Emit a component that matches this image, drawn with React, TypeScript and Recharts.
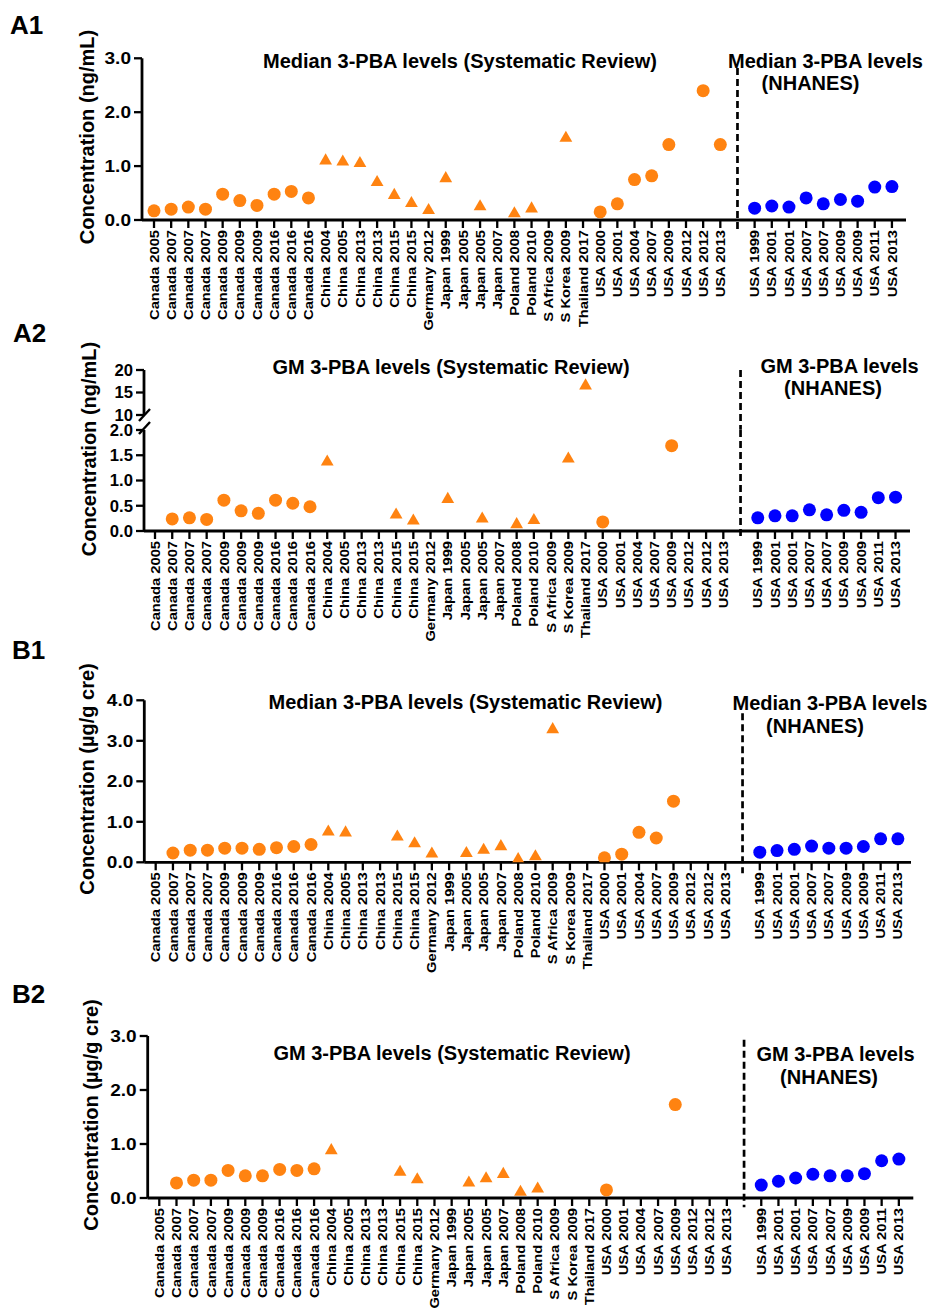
import React from 'react';
import { ScatterChart, Scatter, XAxis, YAxis, ReferenceLine } from 'recharts';

const FONT = '"Liberation Sans", Arial, Helvetica, sans-serif';
const ORANGE = '#FF8311';
const BLUE = '#0000FF';

// ---------- categories ----------
const srCategories = [
  'Canada 2005', 'Canada 2007', 'Canada 2007', 'Canada 2007', 'Canada 2009', 'Canada 2009', 'Canada 2009',
  'Canada 2016', 'Canada 2016', 'Canada 2016', 'China 2004', 'China 2005', 'China 2013', 'China 2013',
  'China 2015', 'China 2015', 'Germany 2012', 'Japan 1999', 'Japan 2005', 'Japan 2005', 'Japan 2007',
  'Poland 2008', 'Poland 2010', 'S Africa 2009', 'S Korea 2009', 'Thailand 2017', 'USA 2000', 'USA 2001',
  'USA 2004', 'USA 2007', 'USA 2009', 'USA 2012', 'USA 2012', 'USA 2013',
];
const nhanesCategories = ['USA 1999', 'USA 2001', 'USA 2001', 'USA 2007', 'USA 2007', 'USA 2009', 'USA 2009', 'USA 2011', 'USA 2013'];

// ---------- values ----------
const a1Review = [0.17, 0.20, 0.24, 0.20, 0.48, 0.36, 0.27, 0.48, 0.53, 0.41, 1.10, 1.08, 1.05, 0.70, 0.46, 0.31, 0.18, 0.77, null, 0.25, null, 0.12, 0.21, null, 1.52, null, 0.15, 0.30, 0.75, 0.82, 1.40, null, 2.40, 1.40];
const a1Nhanes = [0.22, 0.26, 0.24, 0.41, 0.30, 0.38, 0.35, 0.61, 0.62];

const a2Review = [null, 0.24, 0.26, 0.23, 0.61, 0.40, 0.35, 0.61, 0.55, 0.48, 1.37, null, null, null, 0.32, 0.20, null, 0.63, null, 0.24, null, 0.13, 0.21, null, 1.43, 16.5, 0.18, null, null, null, 1.69, null, null, null];
const a2Nhanes = [0.26, 0.30, 0.30, 0.42, 0.32, 0.41, 0.37, 0.66, 0.67];

const b1Review = [null, 0.23, 0.30, 0.30, 0.35, 0.35, 0.32, 0.36, 0.39, 0.44, 0.75, 0.73, null, null, 0.63, 0.46, 0.21, null, 0.22, 0.30, 0.39, 0.07, 0.14, 3.28, null, null, 0.11, 0.20, 0.74, 0.60, 1.51, null, null, null];
const b1Nhanes = [0.25, 0.29, 0.32, 0.40, 0.35, 0.35, 0.39, 0.58, 0.58];

const b2Review = [null, 0.28, 0.33, 0.33, 0.51, 0.41, 0.41, 0.53, 0.51, 0.54, 0.88, null, null, null, 0.48, 0.34, null, null, 0.28, 0.36, 0.44, 0.11, 0.17, null, null, null, 0.15, null, null, null, 1.73, null, null, null];
const b2Nhanes = [0.24, 0.31, 0.37, 0.44, 0.41, 0.41, 0.45, 0.69, 0.72];

// ---------- tick labels ----------
const ticksA1 = [0, 1, 2, 3];
const ticksA2Low = [0, 0.5, 1, 1.5, 2];
const ticksA2High = [10, 15, 20];
const ticksB1 = [0, 1, 2, 3, 4];
const ticksB2 = [0, 1, 2, 3];

const GAP = srCategories.length; // blank slot holding the dashed divider
const NH_START = GAP + 1;
const xTicks = [
  ...srCategories.map((_, i) => i),
  ...nhanesCategories.map((_, i) => NH_START + i),
];
const labelFor = (v: number) => (v < GAP ? srCategories[v] : nhanesCategories[v - NH_START]);
const isCircle = (label: string) => label.startsWith('Canada') || label.startsWith('USA');

type Pt = { x: number; y: number };
function reviewPoints(values: (number | null)[], circle: boolean, keep: (v: number) => boolean): Pt[] {
  const out: Pt[] = [];
  values.forEach((v, i) => {
    if (v === null || !keep(v)) return;
    if (isCircle(srCategories[i]) !== circle) return;
    out.push({ x: i, y: v });
  });
  return out;
}
function nhanesPoints(values: number[], keep: (v: number) => boolean): Pt[] {
  const out: Pt[] = [];
  values.forEach((v, i) => {
    if (keep(v)) out.push({ x: NH_START + i, y: v });
  });
  return out;
}

const CircleShape = (color: string) => (p: any) =>
  p.cx == null ? <g /> : <circle cx={p.cx} cy={p.cy} r={6.5} fill={color} />;
const TriangleShape = (p: any) => {
  if (p.cx == null) return <g />;
  const s = 12.8;
  const h = (s * Math.sqrt(3)) / 2;
  const { cx, cy } = p;
  return (
    <path
      d={`M${cx},${cy - (2 * h) / 3} L${cx + s / 2},${cy + h / 3} L${cx - s / 2},${cy + h / 3} Z`}
      fill={ORANGE}
    />
  );
};

const XTick = (p: any) => {
  const { x, y, payload } = p;
  return (
    <g transform={`translate(${x},${y})`}>
      <text
        transform="rotate(-90) scale(1.15,1)"
        textAnchor="end"
        dy="0.36em"
        fontFamily={FONT}
        fontWeight="bold"
        fontSize={12.8}
        fill="#000"
      >
        {labelFor(payload.value)}
      </text>
    </g>
  );
};
const makeYTick = (digits: number, size: number, stretch: number) => (p: any) => {
  const { x, y, payload } = p;
  return (
    <g transform={`translate(${x},${y}) scale(${stretch},1)`}>
      <text textAnchor="end" dy="0.36em" fontFamily={FONT} fontWeight="bold" fontSize={size} fill="#000">
        {Number(payload.value).toFixed(digits)}
      </text>
    </g>
  );
};

type PanelProps = {
  top: number;
  height: number;
  margin: { top: number; right: number; left: number; bottom: number };
  xAxisHeight: number;
  showX: boolean;
  xDomain: [number, number];
  yDomain: [number, number];
  yTicks: number[];
  digits: number;
  tickSize: number;
  tickStretch: number;
  review: (number | null)[];
  nhanes: number[];
  keep: (v: number) => boolean;
  dash: [number, number];
};

const AXIS = { stroke: '#000', strokeWidth: 2.8 };
const TICKLINE = { stroke: '#000', strokeWidth: 2.3 };

function Panel(props: PanelProps) {
  const { top, height, margin, xAxisHeight, showX, xDomain, yDomain, yTicks, digits, tickSize, tickStretch, review, nhanes, keep, dash } = props;
  return (
    <div style={{ position: 'absolute', left: 0, top, width: 929, height }}>
      <ScatterChart width={929} height={height} margin={margin}>
        <XAxis
          type="number"
          dataKey="x"
          domain={xDomain}
          ticks={xTicks}
          interval={0}
          hide={!showX}
          height={xAxisHeight}
          axisLine={AXIS}
          tickLine={TICKLINE}
          tickSize={8}
          tickMargin={2}
          tick={<XTick />}
          allowDataOverflow
        />
        <YAxis
          type="number"
          dataKey="y"
          domain={yDomain}
          ticks={yTicks}
          interval={0}
          width={60}
          axisLine={AXIS}
          tickLine={TICKLINE}
          tickSize={8}
          tickMargin={3}
          tick={makeYTick(digits, tickSize, tickStretch)}
          allowDataOverflow
        />
        <ReferenceLine
          segment={[{ x: GAP, y: dash[0] }, { x: GAP, y: dash[1] }]}
          stroke="#000"
          strokeWidth={2.7}
          strokeDasharray="7 4"
          ifOverflow="visible"
        />
        <Scatter data={reviewPoints(review, true, keep)} shape={CircleShape(ORANGE)} isAnimationActive={false} />
        <Scatter data={reviewPoints(review, false, keep)} shape={TriangleShape} isAnimationActive={false} />
        <Scatter data={nhanesPoints(nhanes, keep)} shape={CircleShape(BLUE)} isAnimationActive={false} />
      </ScatterChart>
    </div>
  );
}

const all = () => true;
const low = (v: number) => v <= 2;
const high = (v: number) => v >= 10;

const T = { fontFamily: FONT, fontWeight: 'bold' as const, fill: '#000' };

function Overlay() {
  const yLabel = (cx: number, cy: number, text: string) => (
    <text
      {...T}
      fontSize={20}
      x={cx}
      y={cy}
      textAnchor="middle"
      dominantBaseline="central"
      transform={`rotate(-90, ${cx}, ${cy})`}
    >
      {text}
    </text>
  );
  const title = (cx: number, y: number, text: string) => (
    <text {...T} fontSize={20} x={cx} y={y} textAnchor="middle">
      {text}
    </text>
  );
  const letter = (x: number, y: number, text: string) => (
    <text {...T} fontSize={26} x={x} y={y}>
      {text}
    </text>
  );
  return (
    <svg width={929} height={1311} style={{ position: 'absolute', left: 0, top: 0, pointerEvents: 'none' }}>
      {letter(10, 34, 'A1')}
      {title(460, 68, 'Median 3-PBA levels (Systematic Review)')}
      {title(825.5, 68, 'Median 3-PBA levels')}
      {title(810.5, 90, '(NHANES)')}
      {yLabel(87, 137, 'Concentration (ng/mL)')}

      {letter(13, 342, 'A2')}
      {title(451, 374, 'GM 3-PBA levels (Systematic Review)')}
      {title(839.5, 373, 'GM 3-PBA levels')}
      {title(833, 395, '(NHANES)')}
      {yLabel(89, 449, 'Concentration (ng/mL)')}
      <rect x={141} y={416} width={6} height={11} fill="#fff" />
      <line x1={139} y1={421} x2={150} y2={409} stroke="#000" strokeWidth={2.4} />
      <line x1={139} y1={434} x2={150} y2={422} stroke="#000" strokeWidth={2.4} />

      {letter(12, 659, 'B1')}
      {title(465.5, 709, 'Median 3-PBA levels (Systematic Review)')}
      {title(830, 710, 'Median 3-PBA levels')}
      {title(815, 733, '(NHANES)')}
      {yLabel(87, 779, 'Concentration (\u00b5g/g cre)')}

      {letter(12, 1003, 'B2')}
      {title(452, 1060, 'GM 3-PBA levels (Systematic Review)')}
      {title(835.5, 1061, 'GM 3-PBA levels')}
      {title(829, 1084, '(NHANES)')}
      {yLabel(90.7, 1115, 'Concentration (\u00b5g/g cre)')}
    </svg>
  );
}

export default function App() {
  return (
    <div style={{ position: 'absolute', left: 0, top: 0, width: 929, height: 1311, background: '#fff', overflow: 'hidden' }}>
      <Panel
        top={0}
        height={335}
        margin={{ top: 58.3, right: 23, left: 82, bottom: 10 }}
        xAxisHeight={105}
        showX
        xDomain={[-0.7, 43.82]}
        yDomain={[0, 3]}
        yTicks={ticksA1}
        digits={1}
        tickSize={17}
        tickStretch={1.12}
        review={a1Review}
        nhanes={a1Nhanes}
        keep={all}
        dash={[2.82, -0.19]}
      />
      <Panel
        top={420}
        height={230}
        margin={{ top: 10, right: 19, left: 84, bottom: 10 }}
        xAxisHeight={109}
        showX
        xDomain={[-0.639, 43.84]}
        yDomain={[0, 2]}
        yTicks={ticksA2Low}
        digits={1}
        tickSize={16}
        tickStretch={1.04}
        review={a2Review}
        nhanes={a2Nhanes}
        keep={low}
        dash={[2, -0.18]}
      />
      <Panel
        top={340}
        height={90}
        margin={{ top: 30, right: 19, left: 84, bottom: 15 }}
        xAxisHeight={0}
        showX={false}
        xDomain={[-0.639, 43.84]}
        yDomain={[10, 20]}
        yTicks={ticksA2High}
        digits={0}
        tickSize={16}
        tickStretch={1.04}
        review={a2Review}
        nhanes={a2Nhanes}
        keep={high}
        dash={[20, 6.7]}
      />
      <Panel
        top={640}
        height={340}
        margin={{ top: 60.3, right: 18, left: 84.3, bottom: 10 }}
        xAxisHeight={107.7}
        showX
        xDomain={[-0.66, 43.76]}
        yDomain={[0, 4]}
        yTicks={ticksB1}
        digits={1}
        tickSize={17}
        tickStretch={1.12}
        review={b1Review}
        nhanes={b1Nhanes}
        keep={all}
        dash={[3.68, -0.27]}
      />
      <Panel
        top={980}
        height={331}
        margin={{ top: 56, right: 15.7, left: 87.7, bottom: 10 }}
        xAxisHeight={103}
        showX
        xDomain={[-0.674, 43.84]}
        yDomain={[0, 3]}
        yTicks={ticksB2}
        digits={1}
        tickSize={17}
        tickStretch={1.12}
        review={b2Review}
        nhanes={b2Nhanes}
        keep={all}
        dash={[2.93, -0.17]}
      />
      <Overlay />
    </div>
  );
}
